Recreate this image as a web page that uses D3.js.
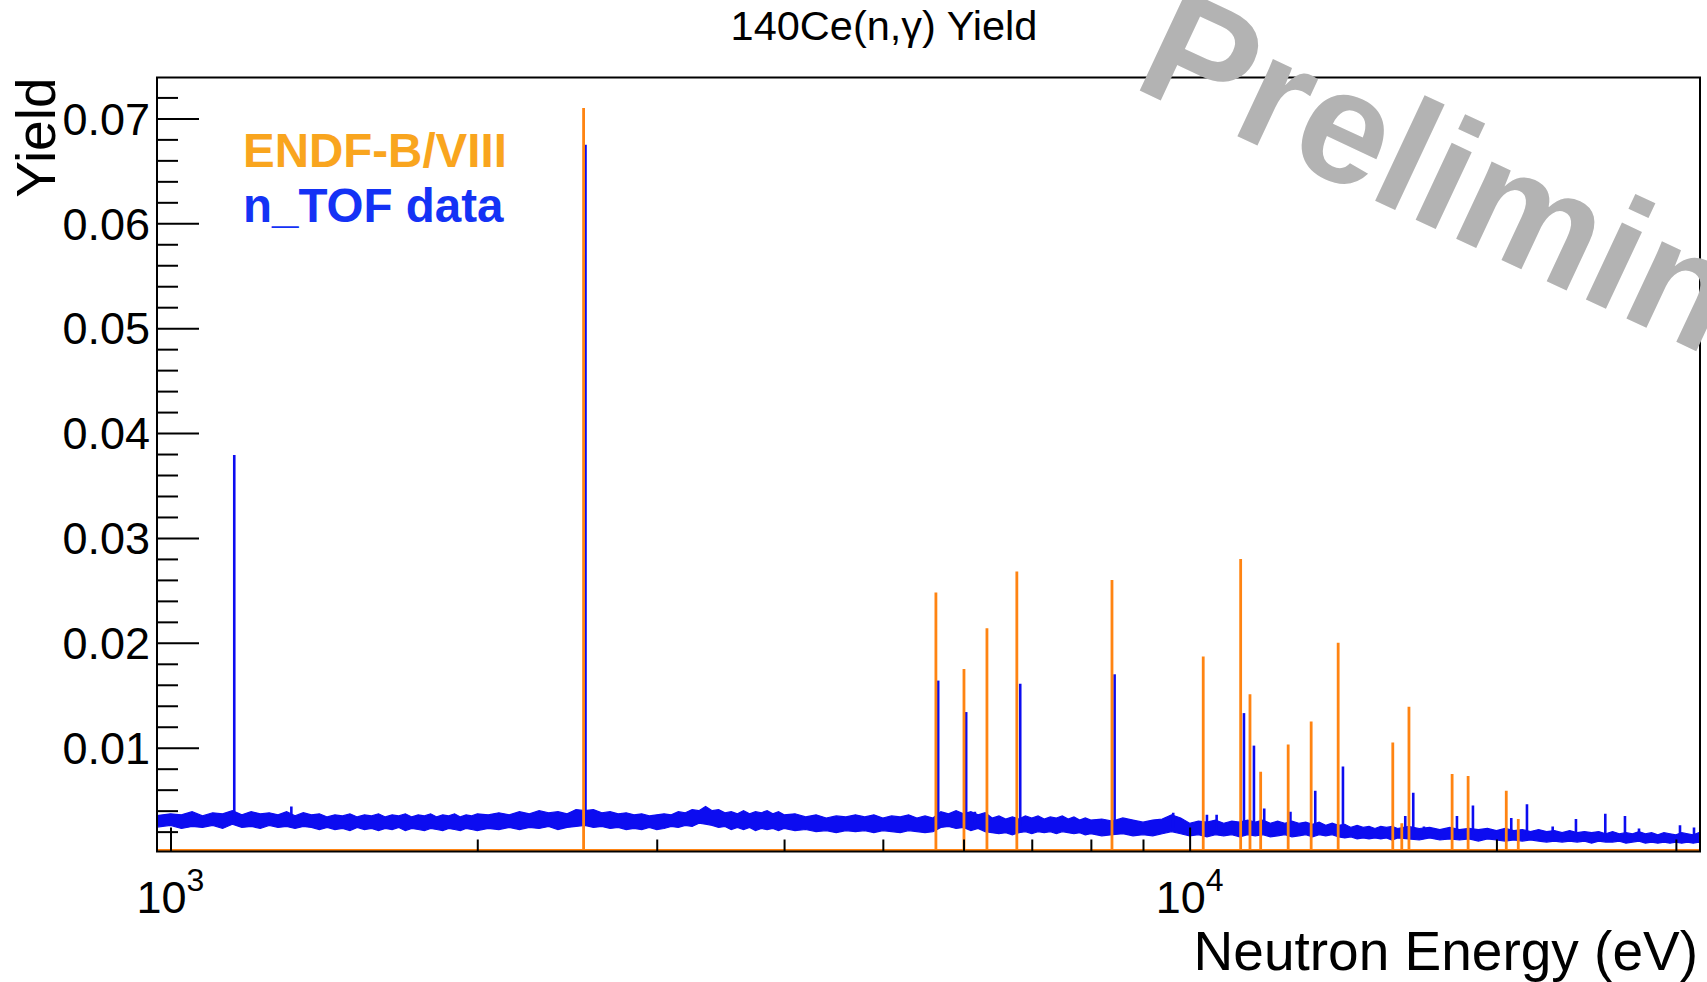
<!DOCTYPE html>
<html>
<head>
<meta charset="utf-8">
<script src="https://cdn.jsdelivr.net/npm/d3@7"></script>
<style>
  html, body { margin: 0; padding: 0; background: #fff; }
  svg { display: block; }
  text { font-family: "Liberation Sans", Arial, Helvetica, sans-serif; }
</style>
</head>
<body>
<div id="chart"></div>
<script>
// axis ranges
const xDomain = [970, 31680];
const yDomain = [0.0002, 0.0739];

// ENDF-B/VIII resonances: [energy (eV), yield]
const endfPeaks = [
  [2543, 0.0710], [5637, 0.0248], [6006, 0.0175], [6326, 0.0214], [6768, 0.0268],
  [8391, 0.0260], [10312, 0.0187], [11222, 0.0280], [11461, 0.0151], [11741, 0.0077],
  [12494, 0.0103], [13160, 0.0125], [13988, 0.0200], [15825, 0.0105], [16150, 0.0028],
  [16414, 0.0139], [18095, 0.0075], [18761, 0.0073], [20450, 0.0059], [21012, 0.0032]
];

// n_TOF data peaks: [energy (eV), peak yield, local background]
const tofPeaks = [
  [1155, 0.0379, 0.0030], [1314, 0.0044, 0.0031], [2554, 0.0675, 0.0032],
  [5666, 0.0164, 0.0028], [6036, 0.0134, 0.0030], [6156, 0.0039, 0.0029],
  [6820, 0.0161, 0.0026], [8441, 0.0170, 0.0025], [9636, 0.0038, 0.0024],
  [10399, 0.0036, 0.0023], [10629, 0.0036, 0.0022], [11306, 0.0133, 0.0023],
  [11564, 0.0102, 0.0023], [11836, 0.0042, 0.0023], [12558, 0.0039, 0.0023],
  [13282, 0.0059, 0.0022], [14140, 0.0082, 0.0021], [16277, 0.0035, 0.0019],
  [16574, 0.0057, 0.0019], [16979, 0.0025, 0.0018], [18294, 0.0035, 0.0017],
  [18967, 0.0045, 0.0017], [20682, 0.0033, 0.0016], [21429, 0.0046, 0.0016],
  [22711, 0.0025, 0.0015], [23937, 0.0032, 0.0015], [25577, 0.0037, 0.0014],
  [26740, 0.0035, 0.0014], [27601, 0.0023, 0.0014], [30280, 0.0026, 0.0014],
  [31254, 0.0024, 0.0014]
];

// n_TOF continuum, read as a band: [energy (eV), lower edge, upper edge]
const tofBand = [
  [965,.0024,.0035],[1000,.0026,.0037],[1025,.0023,.0036],[1050,.0025,.0039],[1075,.0024,.0035],
  [1100,.0026,.0038],[1125,.0023,.0037],[1150,.0027,.0040],[1175,.0024,.0036],[1200,.0025,.0039],
  [1225,.0023,.0037],[1250,.0026,.0038],[1275,.0024,.0036],[1300,.0025,.0039],[1325,.0023,.0035],
  [1350,.0025,.0038],[1375,.0024,.0036],[1400,.0022,.0037],[1425,.0024,.0034],[1450,.0022,.0036],
  [1475,.0023,.0035],[1500,.0021,.0037],[1525,.0024,.0034],[1550,.0022,.0036],[1575,.0023,.0035],
  [1600,.0021,.0037],[1625,.0023,.0034],[1650,.0022,.0036],[1675,.0024,.0035],[1700,.0021,.0037],
  [1725,.0023,.0034],[1750,.0022,.0036],[1775,.0021,.0035],[1800,.0023,.0037],[1825,.0022,.0034],
  [1850,.0021,.0036],[1875,.0023,.0035],[1900,.0022,.0037],[1925,.0021,.0034],[1950,.0023,.0036],
  [1975,.0022,.0035],[2000,.0021,.0037],
  [2050,.0023,.0036],[2100,.0022,.0038],[2150,.0024,.0036],[2200,.0022,.0039],[2250,.0024,.0037],
  [2300,.0023,.0040],[2350,.0025,.0038],[2400,.0022,.0039],[2450,.0024,.0037],[2500,.0025,.0041],
  [2550,.0026,.0040],[2600,.0024,.0041],[2650,.0025,.0038],[2700,.0023,.0039],[2750,.0024,.0037],
  [2800,.0022,.0038],[2850,.0023,.0036],[2900,.0022,.0037],[2950,.0024,.0035],[3000,.0022,.0036],
  [3050,.0023,.0037],[3100,.0025,.0036],[3150,.0024,.0039],[3200,.0026,.0038],[3250,.0025,.0041],
  [3300,.0028,.0040],[3350,.0027,.0044],[3400,.0026,.0040],[3450,.0024,.0041],[3500,.0025,.0038],
  [3550,.0022,.0039],[3600,.0024,.0037],[3650,.0022,.0040],[3700,.0024,.0037],[3750,.0021,.0039],
  [3800,.0023,.0038],[3850,.0022,.0040],[3900,.0023,.0037],[3950,.0021,.0039],[4000,.0023,.0036],
  [4100,.0021,.0037],[4200,.0022,.0034],[4300,.0020,.0036],[4400,.0021,.0033],[4500,.0019,.0035],
  [4600,.0021,.0034],[4700,.0020,.0036],[4800,.0021,.0034],[4900,.0019,.0036],[5000,.0021,.0033],
  [5100,.0020,.0035],[5200,.0019,.0034],[5300,.0021,.0036],[5400,.0020,.0033],[5500,.0019,.0035],
  [5600,.0020,.0033],[5700,.0024,.0039],[5800,.0025,.0037],[5900,.0023,.0040],[6000,.0024,.0037],
  [6100,.0021,.0039],[6200,.0023,.0036],[6300,.0020,.0038],[6400,.0019,.0033],[6500,.0018,.0035],
  [6600,.0019,.0032],[6700,.0017,.0034],[6800,.0019,.0032],[6900,.0020,.0035],[7000,.0018,.0033],
  [7100,.0020,.0035],[7200,.0019,.0032],[7300,.0020,.0034],[7400,.0018,.0033],[7500,.0020,.0035],
  [7600,.0019,.0032],[7700,.0018,.0034],[7800,.0019,.0031],[7900,.0017,.0033],[8000,.0018,.0031],
  [8200,.0016,.0032],[8400,.0017,.0030],[8600,.0018,.0033],[8800,.0016,.0031],[9000,.0017,.0029],
  [9200,.0016,.0031],[9400,.0018,.0032],[9600,.0020,.0036],[9800,.0018,.0033],[10000,.0016,.0028],
  [10200,.0017,.0030],[10400,.0015,.0029],[10600,.0017,.0031],[10800,.0016,.0028],[11000,.0017,.0030],
  [11200,.0015,.0029],[11400,.0017,.0031],[11600,.0016,.0029],[11800,.0017,.0031],[12000,.0015,.0028],
  [12200,.0016,.0030],[12400,.0017,.0028],[12600,.0015,.0030],[12800,.0016,.0028],[13000,.0017,.0029],
  [13200,.0015,.0027],[13400,.0017,.0029],[13600,.0016,.0026],[13800,.0017,.0028],[14000,.0015,.0026],
  [14200,.0014,.0027],[14400,.0015,.0024],[14600,.0013,.0026],[14800,.0014,.0024],[15000,.0013,.0025],
  [15200,.0014,.0023],[15400,.0013,.0025],[15600,.0014,.0024],[15800,.0012,.0025],[16000,.0014,.0023],
  [16400,.0013,.0025],[16800,.0012,.0023],[17200,.0014,.0024],[17600,.0012,.0022],[18000,.0013,.0024],
  [18400,.0012,.0022],[18800,.0013,.0023],[19200,.0011,.0022],[19600,.0013,.0023],[20000,.0012,.0021],
  [20400,.0011,.0023],[20800,.0012,.0021],[21200,.0011,.0022],[21600,.0012,.0020],[22000,.0011,.0022],
  [22400,.0010,.0020],[22800,.0011,.0021],[23200,.0010,.0019],[23600,.0011,.0021],[24000,.0010,.0019],
  [24400,.0011,.0020],[24800,.0009,.0019],[25200,.0011,.0020],[25600,.0010,.0018],[26000,.0010,.0020],
  [26400,.0011,.0018],[26800,.0009,.0019],[27200,.0010,.0018],[27600,.0011,.0020],[28000,.0009,.0018],
  [28400,.0010,.0019],[28800,.0009,.0017],[29200,.0010,.0019],[29600,.0009,.0018],[30000,.0010,.0017],
  [30400,.0009,.0019],[30800,.0010,.0018],[31200,.0009,.0017],[31600,.0010,.0019],[32000,.0009,.0018]
];

// ticks
const yMajorTicks = [0.01, 0.02, 0.03, 0.04, 0.05, 0.06, 0.07];
const yMinorTicks = [0.002, 0.004, 0.006, 0.008, 0.012, 0.014, 0.016, 0.018, 0.022, 0.024, 0.026, 0.028,
  0.032, 0.034, 0.036, 0.038, 0.042, 0.044, 0.046, 0.048, 0.052, 0.054, 0.056, 0.058,
  0.062, 0.064, 0.066, 0.068, 0.072];
const xMajorTicks = [1000, 10000];
const xMinorTicks = [2000, 3000, 4000, 5000, 6000, 7000, 8000, 9000, 20000, 30000];

const legendItems = [
  { label: "ENDF-B/VIII", color: "#f9a51e" },
  { label: "n_TOF data", color: "#1432f5" }
];

const endfColor = "#ff8412";
const tofColor = "#0c0cf0";

const W = 1707, H = 982;
const frame = { left: 157, right: 1700, top: 77.5, bottom: 851.5 };

const svg = d3.select("#chart").append("svg")
    .attr("width", W)
    .attr("height", H);

svg.append("rect").attr("width", W).attr("height", H).attr("fill", "#fff");

const x = d3.scaleLog().domain(xDomain).range([frame.left, frame.right]);
const y = d3.scaleLinear().domain(yDomain).range([850.5, frame.top]).clamp(true);

svg.append("defs").append("clipPath").attr("id", "plotClip")
  .append("rect")
    .attr("x", frame.left)
    .attr("y", frame.top)
    .attr("width", frame.right - frame.left)
    .attr("height", frame.bottom - frame.top);

const plot = svg.append("g").attr("clip-path", "url(#plotClip)");

// n_TOF continuum
const bandArea = d3.area()
    .x(d => x(d[0]))
    .y0(d => y(d[1]))
    .y1(d => y(d[2]));

plot.append("path")
    .datum(tofBand)
    .attr("d", bandArea)
    .attr("fill", tofColor)
    .attr("stroke", tofColor)
    .attr("stroke-width", 1.2)
    .attr("stroke-linejoin", "miter");

// n_TOF resonances
plot.selectAll(".tof-peak")
  .data(tofPeaks)
  .join("line")
    .attr("class", "tof-peak")
    .attr("x1", d => x(d[0]))
    .attr("x2", d => x(d[0]))
    .attr("y1", d => y(d[2]))
    .attr("y2", d => y(d[1]))
    .attr("stroke", tofColor)
    .attr("stroke-width", 2.6);

// ENDF curve: zero everywhere except the resonances
const endfPts = [[xDomain[0], 0]];
endfPeaks.forEach(([e, h]) => {
    endfPts.push([e, 0], [e, h], [e, 0]);
});
endfPts.push([xDomain[1], 0]);

plot.append("path")
    .datum(endfPts)
    .attr("d", d3.line().x(d => x(d[0])).y(d => y(d[1])))
    .attr("fill", "none")
    .attr("stroke", endfColor)
    .attr("stroke-width", 2.8);

// axes
function styleAxis(g) {
    g.select(".domain").remove();
    g.selectAll(".tick line").attr("stroke", "#000").attr("stroke-width", 2);
}

svg.append("g")
    .attr("transform", `translate(${frame.left},0)`)
    .call(d3.axisLeft(y).tickValues(yMinorTicks).tickSizeInner(-21).tickSizeOuter(0).tickFormat(""))
    .call(styleAxis);

const yAxisG = svg.append("g")
    .attr("transform", `translate(${frame.left},0)`)
    .call(d3.axisLeft(y).tickValues(yMajorTicks).tickSizeInner(-42).tickSizeOuter(0)
        .tickPadding(7).tickFormat(d3.format(".2f")))
    .call(styleAxis);

yAxisG.selectAll(".tick text")
    .attr("font-size", 45)
    .attr("font-family", "Liberation Sans, Arial, sans-serif")
    .attr("fill", "#000")
    .attr("dy", "0.35em");

svg.append("g")
    .attr("transform", `translate(0,${frame.bottom})`)
    .call(d3.axisBottom(x).tickValues(xMinorTicks).tickSizeInner(-12).tickSizeOuter(0).tickFormat(""))
    .call(styleAxis);

svg.append("g")
    .attr("transform", `translate(0,${frame.bottom})`)
    .call(d3.axisBottom(x).tickValues(xMajorTicks).tickSizeInner(-24).tickSizeOuter(0).tickFormat(""))
    .call(styleAxis);

svg.selectAll(".x-label")
  .data(xMajorTicks)
  .join("text")
    .attr("class", "x-label")
    .attr("x", d => x(d))
    .attr("y", 913)
    .attr("text-anchor", "middle")
    .attr("font-size", 45)
    .each(function(d) {
        const t = d3.select(this);
        t.append("tspan").text("10");
        t.append("tspan").attr("dy", -22).attr("font-size", 32).text(Math.round(Math.log10(d)));
    });

// frame
svg.append("rect")
    .attr("x", frame.left)
    .attr("y", frame.top)
    .attr("width", frame.right - frame.left)
    .attr("height", frame.bottom - frame.top)
    .attr("fill", "none")
    .attr("stroke", "#000")
    .attr("stroke-width", 2);

// titles
svg.append("text")
    .attr("x", 884)
    .attr("y", 40)
    .attr("text-anchor", "middle")
    .attr("font-size", 41.5)
    .text("140Ce(n,γ) Yield");

svg.append("text")
    .attr("x", 1698)
    .attr("y", 970)
    .attr("text-anchor", "end")
    .attr("font-size", 55)
    .text("Neutron Energy (eV)");

svg.append("text")
    .attr("transform", `translate(55,${frame.top}) rotate(-90)`)
    .attr("text-anchor", "end")
    .attr("font-size", 55)
    .text("Yield");

// legend
svg.selectAll(".legend")
  .data(legendItems)
  .join("text")
    .attr("class", "legend")
    .attr("x", 243)
    .attr("y", (d, i) => 167 + i * 55)
    .attr("font-size", 47.5)
    .attr("font-weight", "bold")
    .attr("fill", d => d.color)
    .text(d => d.label);

// watermark
svg.append("text")
    .attr("transform", "translate(1130,86) rotate(25.1)")
    .attr("font-size", 161)
    .attr("font-weight", "bold")
    .attr("fill", "#b3b3b3")
    .text("Preliminary");
</script>
</body>
</html>
